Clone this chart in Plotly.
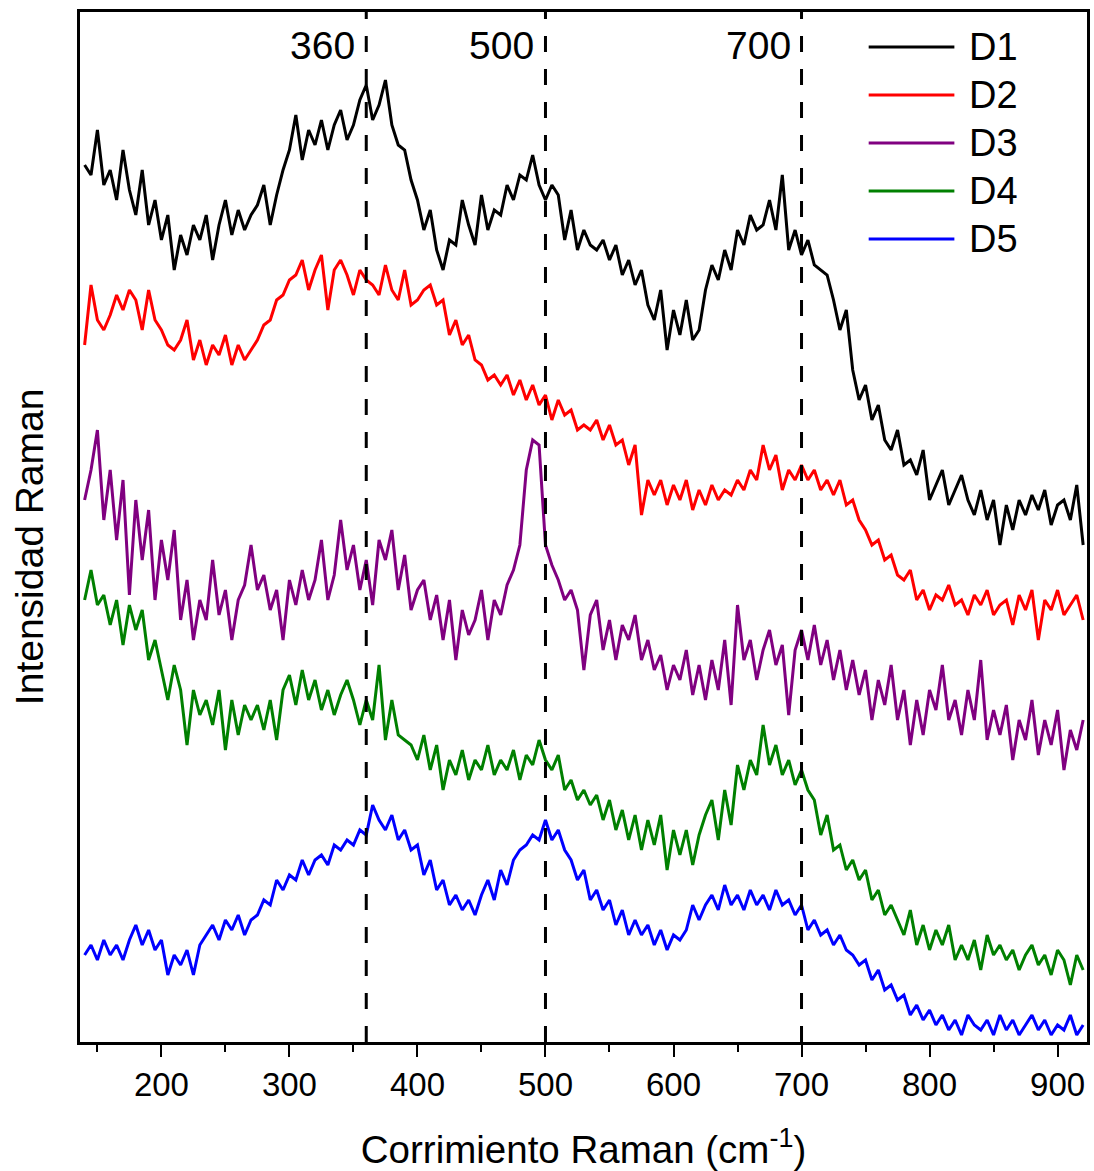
import plotly.graph_objects as go

wavenumber = list(range(140, 921, 5))

d1 = [875,865,910,855,870,840,890,850,825,870,815,840,800,825,770,805,785,815,800,825,
      780,815,840,805,830,810,825,835,855,815,845,870,890,925,880,910,895,920,890,915,
      930,900,915,940,955,920,935,960,915,895,890,860,840,810,830,790,770,800,795,840,
      815,795,845,810,830,825,855,840,865,860,885,855,840,855,845,800,830,790,810,795,
      790,800,780,795,765,780,755,770,735,720,750,690,730,705,740,700,710,750,775,760,
      790,770,810,795,825,810,815,840,810,865,790,810,785,800,775,770,765,740,710,730,
      670,640,655,620,635,600,590,610,575,580,565,590,540,555,570,535,550,565,540,525,
      550,520,540,495,535,510,540,525,545,530,550,515,535,540,520,555,495]

d2 = [695,755,720,710,725,745,730,750,740,710,750,720,710,695,690,700,720,680,700,675,
      695,685,705,675,695,680,690,700,715,720,740,745,760,765,780,750,770,785,730,770,
      780,765,745,770,760,755,745,775,750,740,770,735,740,750,755,735,740,705,720,695,
      705,680,675,660,665,655,665,645,660,640,655,635,645,620,640,625,630,610,615,610,
      620,600,615,595,600,575,595,525,560,545,560,535,555,540,560,530,550,535,555,540,
      550,545,560,550,570,560,595,570,585,550,570,560,575,560,570,550,560,545,560,535,
      540,520,510,495,500,480,485,465,460,470,440,450,430,445,440,455,435,440,425,445,
      435,450,425,435,440,415,445,430,450,400,440,430,450,425,435,445,420]

d3 = [540,570,610,520,570,500,560,445,540,480,530,440,500,460,510,420,460,400,440,420,
      480,425,450,400,440,455,495,450,465,430,450,400,460,435,470,440,460,500,440,465,
      520,470,495,450,480,435,500,480,510,450,485,430,450,460,420,445,400,440,380,430,
      405,420,450,400,440,425,455,470,495,570,600,595,495,475,460,440,450,430,370,425,
      440,390,420,380,415,400,425,380,400,370,385,350,375,360,390,345,375,340,380,350,
      400,335,435,380,400,360,390,410,375,395,325,390,410,380,415,375,400,360,390,350,
      380,345,370,320,360,335,375,320,350,295,340,305,350,330,375,320,340,305,350,320,
      380,300,330,305,335,280,320,300,340,285,320,295,330,270,310,290,320]

d4 = [440,470,435,445,415,440,395,435,410,430,380,400,370,340,375,350,295,350,325,340,
      315,350,290,340,305,335,320,335,310,340,300,350,365,335,370,340,360,330,350,325,
      345,360,340,315,340,320,375,300,340,305,300,295,280,305,270,295,250,280,265,290,
      260,280,270,295,265,280,270,290,260,285,275,300,280,270,285,250,260,240,250,235,
      245,220,240,210,230,200,225,190,220,195,225,170,210,185,210,175,205,225,240,200,
      250,215,275,250,280,265,315,275,295,265,280,255,270,250,240,205,225,190,195,170,
      180,160,170,140,150,125,135,120,105,130,95,115,90,110,95,115,80,95,80,100,
      70,105,85,95,80,90,70,85,95,75,85,65,90,80,55,85,70]

d5 = [85,95,80,100,85,95,80,100,115,95,110,90,100,65,85,75,90,65,95,105,
      115,100,120,110,125,105,120,125,140,135,160,150,165,160,180,165,180,185,175,195,
      190,200,195,210,205,235,220,210,225,200,210,190,195,165,180,150,160,135,145,130,
      140,125,145,160,140,170,155,180,190,195,205,200,220,200,210,190,180,160,170,140,
      150,130,140,115,130,105,120,105,115,95,110,90,105,100,110,135,120,135,145,130,
      155,135,145,130,150,135,145,130,150,135,140,125,135,110,120,105,110,95,105,90,
      85,75,80,60,70,50,55,40,45,25,35,20,30,15,25,10,20,5,25,15,
      10,20,5,25,10,20,5,15,25,10,20,5,15,10,25,5,15]

series_names = ["D1", "D2", "D3", "D4", "D5"]
series_values = [d1, d2, d3, d4, d5]
series_colors = ["#000000", "#FF0000", "#800080", "#008000", "#0000FF"]

marker_positions = [360, 500, 700]
marker_labels = ["360", "500", "700"]

FONT = "Liberation Sans, Arial, Helvetica, sans-serif"

fig = go.Figure()
for name, vals, col in zip(series_names, series_values, series_colors):
    fig.add_trace(go.Scatter(x=wavenumber, y=vals, mode="lines", name=name,
                             line=dict(color=col, width=3), showlegend=False))

# dashed reference lines and their labels
for xv, lab in zip(marker_positions, marker_labels):
    fig.add_shape(type="line", xref="x", yref="paper", x0=xv, x1=xv, y0=0, y1=1,
                  line=dict(color="black", width=3, dash="16px,17px"))
    fig.add_annotation(x=xv, y=0.967, xref="x", yref="paper", text=lab,
                       showarrow=False, xanchor="right", yanchor="middle", xshift=-9,
                       font=dict(family=FONT, size=39, color="black"))

# manual legend (long line samples as in the reference)
leg_y = [0.966, 0.9194, 0.8728, 0.8262, 0.7796]
for name, col, yy in zip(series_names, series_colors, leg_y):
    fig.add_shape(type="line", xref="paper", yref="paper", x0=0.7832, x1=0.8683,
                  y0=yy, y1=yy, line=dict(color=col, width=3))
    fig.add_annotation(x=0.8812, y=yy, xref="paper", yref="paper", text=name,
                       showarrow=False, xanchor="left", yanchor="middle",
                       font=dict(family=FONT, size=38, color="black"))

# y-axis title (placed as in the reference, slightly below the plot centre)
fig.add_annotation(x=-0.0495, y=0.4806, xref="paper", yref="paper",
                   text="Intensidad Raman", textangle=-90, showarrow=False,
                   xanchor="center", yanchor="middle",
                   font=dict(family=FONT, size=39, color="black"))

fig.update_layout(
    width=1094, height=1171,
    margin=dict(l=80, r=4, t=12, b=129),
    paper_bgcolor="white", plot_bgcolor="white",
    font=dict(family=FONT, color="black"),
    showlegend=False,
)
fig.update_xaxes(
    range=[136.4, 923], showgrid=False, zeroline=False,
    showline=True, linecolor="black", linewidth=2.5, mirror=True,
    ticks="outside", ticklen=12, tickwidth=2, tickcolor="black",
    tick0=200, dtick=100,
    minor=dict(ticks="outside", ticklen=7, tickwidth=2, tickcolor="black", dtick=50, tick0=150),
    tickfont=dict(family=FONT, size=33, color="black"),
    title=dict(text="Corrimiento Raman (cm<sup>-1</sup>)", standoff=34,
               font=dict(family=FONT, size=38.5, color="black")),
)
fig.update_yaxes(
    range=[-2, 1028], showgrid=False, zeroline=False,
    showline=True, linecolor="black", linewidth=2.5, mirror=True,
    showticklabels=False, ticks="",
)

fig.write_html("out.html")
